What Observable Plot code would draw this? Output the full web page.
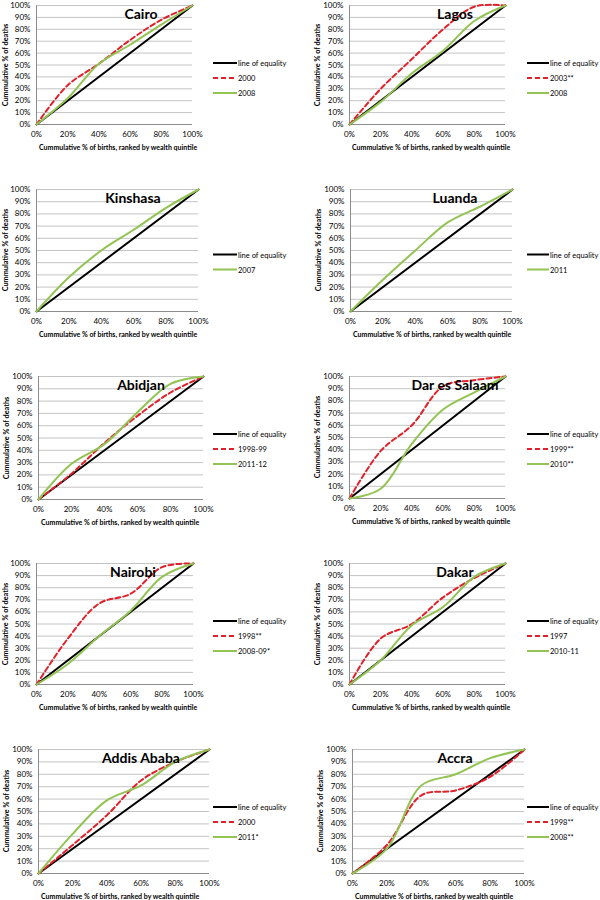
<!DOCTYPE html>
<html>
<head>
<meta charset="utf-8">
<script src="https://cdn.jsdelivr.net/npm/d3@7"></script>
<script src="https://cdn.jsdelivr.net/npm/@observablehq/plot@0.6"></script>
<style>
  html, body { margin: 0; padding: 0; background: #fff; }
  #root { position: relative; width: 600px; height: 900px; overflow: hidden; font-family: Lato, "Open Sans", sans-serif; }
  .abs { position: absolute; white-space: nowrap; }
  .title { font-weight: bold; font-size: 14px; transform: translate(-50%, -50%); color: #000; }
  .xtitle { font-weight: bold; font-size: 7px; transform: translate(0, -50%); color: #000; }
  .ytitle { font-weight: bold; font-size: 7.3px; transform: translate(-50%, -50%) rotate(-90deg); color: #000; }
  .leg { font-size: 7.5px; transform: translate(0, -50%); color: #000; }
</style>
</head>
<body>
<div id="root"></div>
<script>
// ---- tick values ----
const X_TICKS = [0, 20, 40, 60, 80, 100];
const Y_TICKS = [0, 10, 20, 30, 40, 50, 60, 70, 80, 90, 100];

// ---- series: [cumulative % of births, cumulative % of deaths] ----
const equality = [[0, 0], [100, 100]];

const cairo2000 = [[0, 0], [20, 33], [40, 51], [60, 71], [80, 88], [100, 100]];
const cairo2008 = [[0, 0], [20, 22], [40, 51], [60, 67], [80, 84], [100, 100]];

const lagos2003 = [[0, 0], [20, 30], [40, 55], [60, 80], [80, 99], [100, 100]];
const lagos2008 = [[0, 0], [20, 19], [40, 43], [60, 62], [80, 87], [100, 100]];

const kinshasa2007 = [[0, 0], [20, 28], [40, 50], [60, 67], [80, 85], [100, 100]];

const luanda2011 = [[0, 0], [20, 26], [40, 50], [60, 73], [80, 86], [100, 100]];

const abidjan9899 = [[0, 0], [20, 21], [40, 46], [60, 68], [80, 87], [100, 100]];
const abidjan1112 = [[0, 0], [20, 29], [40, 45], [60, 71], [80, 94], [100, 100]];

const dar1999 = [[0, 0], [20, 39], [40, 60], [60, 92], [80, 97], [100, 100]];
const dar2010 = [[0, 0], [20, 8], [40, 45], [60, 73], [80, 87], [100, 100]];

const nairobi1998 = [[0, 0], [20, 38], [40, 67], [60, 75], [80, 97], [100, 100]];
const nairobi0809 = [[0, 0], [20, 17], [40, 40], [60, 61], [80, 89], [100, 100]];

const dakar1997 = [[0, 0], [20, 38], [40, 50], [60, 72], [80, 88], [100, 100]];
const dakar1011 = [[0, 0], [20, 20], [40, 49], [60, 64], [80, 89], [100, 100]];

const addis2000 = [[0, 0], [20, 23], [40, 47], [60, 75], [80, 90], [100, 100]];
const addis2011 = [[0, 0], [20, 32], [40, 59], [60, 71], [80, 90], [100, 100]];

const accra1998 = [[0, 0], [20, 23], [40, 63], [60, 67], [80, 78], [100, 100]];
const accra2008 = [[0, 0], [20, 20], [40, 71], [60, 80], [80, 93], [100, 100]];

// ---- labels ----
const CITIES = ["Cairo", "Lagos", "Kinshasa", "Luanda", "Abidjan", "Dar es Salaam", "Nairobi", "Dakar", "Addis Ababa", "Accra"];
const EQUALITY_LABEL = "line of equality";
const X_TITLE = "Cummulative % of births, ranked by wealth quintile";
const Y_TITLE = "Cummulative % of deaths";

// ---- styles ----
const BLACK = "#000000";
const RED = "#E0202A";
const GREEN = "#92C353";

// ---- layout (plot area in page pixels) ----
const LAYOUT = [
  {x0: 36,  x1: 192, y0: 5,   y1: 124, col: 0},
  {x0: 349, x1: 505, y0: 5,   y1: 124, col: 1},
  {x0: 36,  x1: 198, y0: 189, y1: 311, col: 0},
  {x0: 350, x1: 512, y0: 189, y1: 311, col: 1},
  {x0: 38,  x1: 203, y0: 376, y1: 499, col: 0},
  {x0: 349, x1: 505, y0: 376, y1: 498, col: 1},
  {x0: 36,  x1: 193, y0: 563, y1: 684, col: 0},
  {x0: 349, x1: 505, y0: 563, y1: 684, col: 1},
  {x0: 38,  x1: 209, y0: 749, y1: 873, col: 0},
  {x0: 352, x1: 524, y0: 749, y1: 873, col: 1}
];

const SERIES = [
  [["2000", cairo2000, "red"], ["2008", cairo2008, "green"]],
  [["2003**", lagos2003, "red"], ["2008", lagos2008, "green"]],
  [["2007", kinshasa2007, "green"]],
  [["2011", luanda2011, "green"]],
  [["1998-99", abidjan9899, "red"], ["2011-12", abidjan1112, "green"]],
  [["1999**", dar1999, "red"], ["2010**", dar2010, "green"]],
  [["1998**", nairobi1998, "red"], ["2008-09*", nairobi0809, "green"]],
  [["1997", dakar1997, "red"], ["2010-11", dakar1011, "green"]],
  [["2000", addis2000, "red"], ["2011*", addis2011, "green"]],
  [["1998**", accra1998, "red"], ["2008**", accra2008, "green"]]
];

const root = document.getElementById("root");
const ML = 32, MR = 4, MT = 6, MB = 18;

function addDiv(cls, text, left, top) {
  const d = document.createElement("div");
  d.className = "abs " + cls;
  d.textContent = text;
  d.style.left = left + "px";
  d.style.top = top + "px";
  root.appendChild(d);
  return d;
}

function lineStyle(kind) {
  if (kind === "red") return {stroke: RED, strokeWidth: 2, strokeDasharray: "5,3"};
  if (kind === "green") return {stroke: GREEN, strokeWidth: 2};
  return {stroke: BLACK, strokeWidth: 2};
}

CITIES.forEach((city, i) => {
  const L = LAYOUT[i];
  const series = SERIES[i];
  const pw = L.x1 - L.x0, ph = L.y1 - L.y0;
  const lines = series.map(([label, data, kind]) =>
    Plot.line(data, {x: d => d[0], y: d => d[1], curve: "catmull-rom", ...lineStyle(kind)})
  );
  const chart = Plot.plot({
    width: ML + pw + MR,
    height: MT + ph + MB,
    marginLeft: ML, marginRight: MR, marginTop: MT, marginBottom: MB,
    style: {fontFamily: "Lato, 'Open Sans', sans-serif", fontSize: "8px", color: "#000", background: "transparent", overflow: "visible"},
    x: {domain: [0, 100]},
    y: {domain: [0, 100]},
    marks: [
      Plot.ruleY(Y_TICKS.slice(1), {stroke: "#c4c4c4", strokeWidth: 1}),
      Plot.ruleX([0], {stroke: "#8c8c8c", strokeWidth: 1}),
      Plot.ruleY([0], {stroke: "#8c8c8c", strokeWidth: 1}),
      Plot.axisX(X_TICKS, {tickSize: 0, tickPadding: 7, tickFormat: d => d + "%", label: null}),
      Plot.axisY(Y_TICKS, {tickSize: 0, tickPadding: 6, tickFormat: d => d + "%", label: null}),
      Plot.line(equality, {x: d => d[0], y: d => d[1], ...lineStyle("black")}),
      ...lines
    ]
  });
  chart.style.position = "absolute";
  chart.style.left = (L.x0 - ML) + "px";
  chart.style.top = (L.y0 - MT) + "px";
  root.appendChild(chart);

  // city title
  const tx = L.col === 0 ? (i === 2 || i === 6 ? 133 : 141) : 455;
  addDiv("title", city, tx, L.y0 + 8);
  // axis titles
  addDiv("xtitle", X_TITLE, L.x0 + 3, L.y1 + 23);
  addDiv("ytitle", Y_TITLE, Math.max(4.5, L.x0 - 32), (L.y0 + L.y1) / 2);

  // legend
  const items = [[EQUALITY_LABEL, "black"], ...series.map(s => [s[0], s[2]])];
  const lx0 = L.col === 0 ? 213 : 527;
  const lx1 = L.col === 0 ? 237 : 549;
  const cy = L.y0 + 73;
  const sv = d3.create("svg")
    .attr("width", lx1 - lx0 + 2).attr("height", 60)
    .style("position", "absolute")
    .style("left", lx0 + "px").style("top", (cy - 30) + "px");
  items.forEach(([label, kind], k) => {
    const y = cy + (k - (items.length - 1) / 2) * 15;
    const st = lineStyle(kind);
    sv.append("line")
      .attr("x1", 0).attr("x2", lx1 - lx0)
      .attr("y1", y - (cy - 30)).attr("y2", y - (cy - 30))
      .attr("stroke", st.stroke).attr("stroke-width", 2)
      .attr("stroke-dasharray", st.strokeDasharray || null);
    addDiv("leg", label, lx1 + 1, y);
  });
  root.appendChild(sv.node());
});
</script>
</body>
</html>
